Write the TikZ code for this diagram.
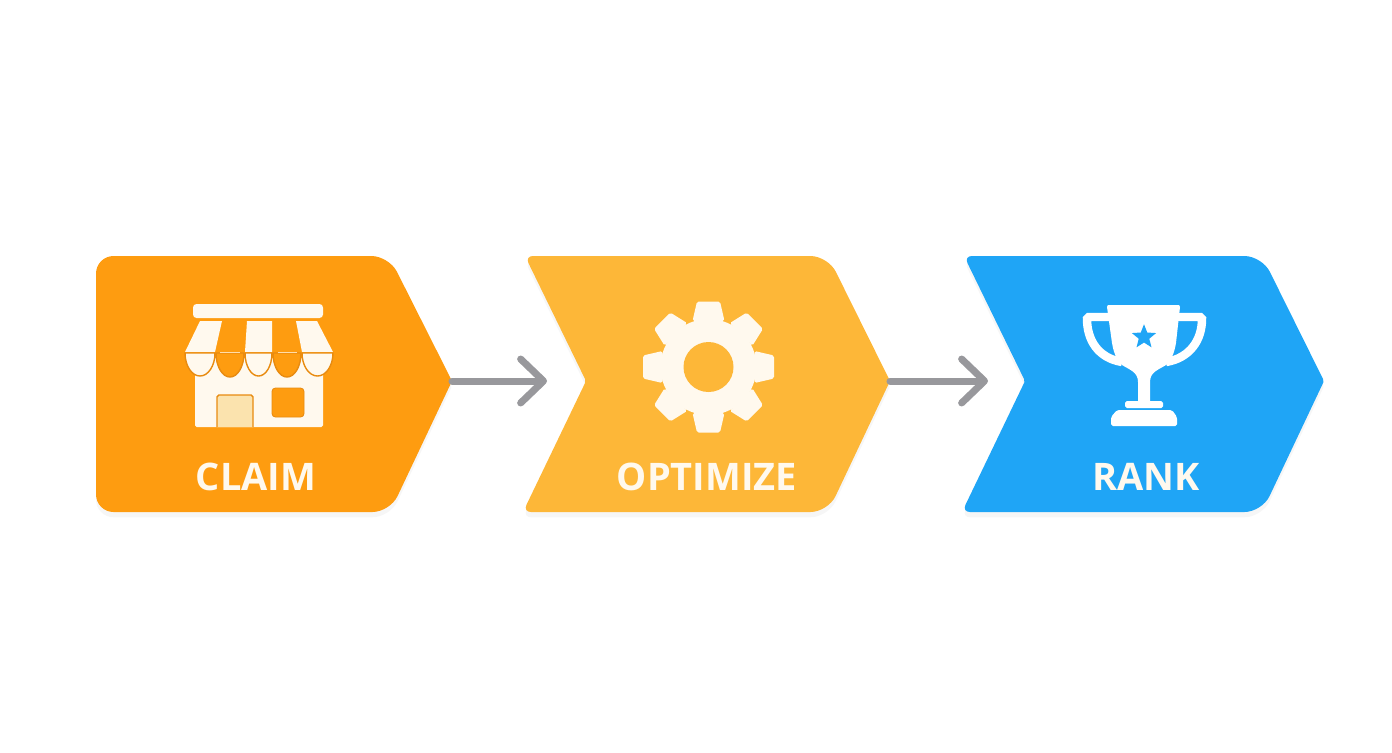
\documentclass[tikz,border=0pt]{standalone}
\usepackage{fontspec}
\setmainfont{Open Sans}
\usetikzlibrary{arrows.meta}
\usetikzlibrary{shadows}
\usetikzlibrary{shapes.geometric}
\definecolor{claimcol}{HTML}{FE9C10}
\definecolor{optcol}{HTML}{FDB738}
\definecolor{rankcol}{HTML}{1FA5F6}
\definecolor{iconcol}{HTML}{FFF9EE}
\definecolor{doorcol}{HTML}{FBE3AE}
\definecolor{edgecol}{HTML}{E88B10}
\definecolor{arrowcol}{HTML}{98989C}
\tikzset{
    softshade/.style={drop shadow={shadow xshift=0pt, shadow yshift=-3pt, opacity=0.06, fill=black!60}},
    flow/.style={arrowcol, line width=4pt, line cap=round, -{Straight Barb[length=13pt,width=25pt,round]}},
    steplabel/.style={text=iconcol, font=\fontsize{21.6}{22}\bfseries\selectfont, inner sep=0pt},
}

\begin{document}
\begin{tikzpicture}[x=0.02cm, y=-0.02cm]
            \useasboundingbox (0,0) rectangle (1392,752);
            % chevrons
            \fill[claimcol, softshade, rounded corners=10pt] (96,256) -- (389,256) [rounded corners=1pt] -- (452,381) [rounded corners=10pt] -- (390,512) -- (96,512) -- cycle;
            \fill[optcol, softshade, rounded corners=10pt] (525,256) -- (828,256) [rounded corners=1pt] -- (890,381) [rounded corners=10pt] -- (828,512) [rounded corners=4.5pt] -- (523,512) [rounded corners=1pt] -- (586,381) [rounded corners=4.5pt] -- cycle;
            \fill[rankcol, softshade, rounded corners=10pt] (964,256) -- (1262,256) [rounded corners=1pt] -- (1324,381) [rounded corners=10pt] -- (1262,512) [rounded corners=4.5pt] -- (962,512) [rounded corners=1pt] -- (1025,381) [rounded corners=4.5pt] -- cycle;

            \coordinate (claimtip) at (452,381);
            \coordinate (claimend) at (547,381);
            \coordinate (opttip) at (890,381);
            \coordinate (optend) at (988,381);
            \draw[flow] (claimtip) -- (claimend);
            \draw[flow] (opttip) -- (optend);

            % store
            \fill[iconcol, rounded corners=2pt] (193,304) rectangle (323,318);
            \fill[iconcol, rounded corners=1pt] (195,358) rectangle (323,427);
            \fill[iconcol] (200,321) -- (222,321) -- (215,352) -- (185,352) -- cycle;
            \fill[iconcol] (247,321) -- (272,321) -- (272,352) -- (245,352) -- cycle;
            \fill[iconcol] (296,321) -- (317,321) -- (333,352) -- (302,352) -- cycle;
            \filldraw[fill=iconcol, draw=edgecol, line width=0.8pt] (185,353) -- (215,353) arc[start angle=0, end angle=180, x radius=15, y radius=23] -- cycle;
            \filldraw[fill=iconcol, draw=edgecol, line width=0.8pt] (245,353) -- (272,353) arc[start angle=0, end angle=180, x radius=13.5, y radius=23] -- cycle;
            \filldraw[fill=iconcol, draw=edgecol, line width=0.8pt] (302,353) -- (333,353) arc[start angle=0, end angle=180, x radius=15.5, y radius=23] -- cycle;
            \filldraw[fill=claimcol, draw=edgecol, line width=0.8pt] (216,353) -- (244,353) arc[start angle=0, end angle=180, x radius=14, y radius=24] -- cycle;
            \filldraw[fill=claimcol, draw=edgecol, line width=0.8pt] (273,353) -- (301,353) arc[start angle=0, end angle=180, x radius=14, y radius=24] -- cycle;
            \draw[iconcol!70!claimcol, line width=0.5pt] (220,352.5) -- (240,352.5) (278,352.5) -- (297,352.5);
            \filldraw[fill=doorcol, draw=edgecol, line width=0.8pt, rounded corners=1pt] (217,427) -- (217,395) -- (253,395) -- (253,427);
            \filldraw[fill=claimcol, draw=edgecol, line width=0.5pt, rounded corners=2pt] (272,388) rectangle (304,417);

            % gear
            \fill[iconcol] (708.5,367) circle (48);
            \foreach \a in {0,45,...,315}
                \fill[iconcol, rounded corners=1pt, rotate around={\a:(708.5,367)}] (692.5,321) -- (697,301.5) -- (720,301.5) -- (724.5,321) -- cycle;
            \fill[optcol] (708.5,367) circle (25);

            % trophy
            \draw[white, line width=4.8pt, rounded corners=1pt] (1112,317) -- (1087,317) .. controls (1087,340) and (1098,358) .. (1122,362);
            \draw[white, line width=4.8pt, rounded corners=1pt] (1176,317) -- (1202,317) .. controls (1202,340) and (1190,358) .. (1166,362);
            \fill[white] (1107,307) .. controls (1107,305) and (1108,305) .. (1110,305) -- (1177,305) .. controls (1179,305) and (1180,305) .. (1180,307) -- (1176,343) .. controls (1174,355) and (1170,362) .. (1166,365) .. controls (1158,370) and (1150,372) .. (1150,382) -- (1150,403) -- (1138,403) -- (1138,382) .. controls (1138,372) and (1130,370) .. (1122,365) .. controls (1118,362) and (1114,355) .. (1112,343) -- cycle;
            \fill[white, rounded corners=1pt] (1125,401) rectangle (1163,408);
            \fill[white, rounded corners=1pt] (1117,410) -- (1172,410) -- (1177,417) -- (1177,426) -- (1111,426) -- (1111,417) -- cycle;
            \node[star, star points=5, star point ratio=2.3, fill=rankcol, inner sep=0pt, minimum size=14.5pt] (rankstar) at (1144,337) {};

            % labels
            \node[steplabel] (claimlabel) at (256,477) {CLAIM};
            \node[steplabel] (optlabel) at (707,477) {OPTIMIZE};
            \node[steplabel] (ranklabel) at (1146,477) {RANK};
        \end{tikzpicture}
\end{document}
